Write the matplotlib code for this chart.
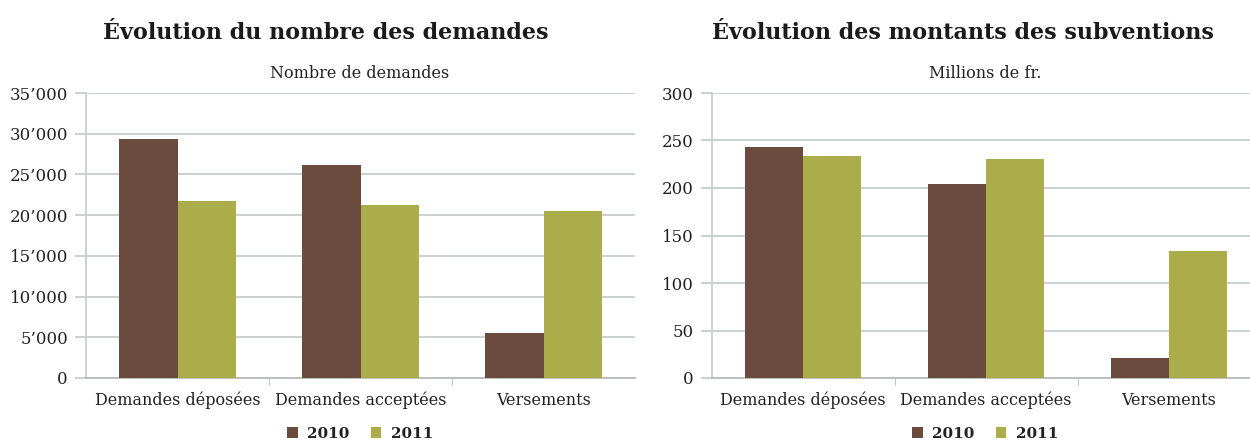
import matplotlib
matplotlib.use("Agg")
import matplotlib.pyplot as plt
from matplotlib.patches import Patch
import numpy as np

categories = ["Demandes déposées", "Demandes acceptées", "Versements"]
series_names = ["2010", "2011"]
demandes_2010 = [29400, 26100, 5500]
demandes_2011 = [21700, 21200, 20500]
montants_2010 = [243.5, 204, 21.5]
montants_2011 = [233.5, 231, 134]
left_ticks = [0, 5000, 10000, 15000, 20000, 25000, 30000, 35000]
left_ticklabels = ["0", "5’000", "10’000", "15’000", "20’000", "25’000", "30’000", "35’000"]
right_ticks = [0, 50, 100, 150, 200, 250, 300]
right_ticklabels = ["0", "50", "100", "150", "200", "250", "300"]

titles = ["Évolution du nombre des demandes", "Évolution des montants des subventions"]
subtitles = ["Nombre de demandes", "Millions de fr."]

C2010 = "#6b4b3e"
C2011 = "#abad4b"
GRID = "#c6cfca"
TXT = "#222222"

plt.rcParams['font.family'] = ['DejaVu Serif']

fig = plt.figure(figsize=(12.5, 4.43), dpi=100)
fig.patch.set_facecolor("white")

ax_h = (378 - 93) / 443
ax_b = 1 - 378 / 443
axL = fig.add_axes([86 / 1250, ax_b, 549 / 1250, ax_h])
axR = fig.add_axes([711.5 / 1250, ax_b, 549 / 1250, ax_h])

bw = 0.317
x = np.arange(len(categories))


def draw(ax, v10, v11, ticks, labels, ymax, title, subtitle, title_x, center_x):
    ax.bar(x - bw / 2, v10, bw, color=C2010, zorder=3)
    ax.bar(x + bw / 2, v11, bw, color=C2011, zorder=3)
    ax.set_xlim(-0.5, 2.5)
    ax.set_ylim(0, ymax)
    ax.set_yticks(ticks)
    ax.set_yticklabels(labels, fontsize=12, color=TXT)
    ax.yaxis.grid(True, color=GRID, linewidth=1.3, zorder=0)
    ax.set_axisbelow(True)
    ax.tick_params(axis='y', length=8, color=GRID, width=1.3, pad=5)
    ax.set_xticks(x)
    ax.set_xticklabels(categories, fontsize=11.5, color=TXT)
    ax.set_xticks([0.5, 1.5], minor=True)
    ax.tick_params(axis='x', which='major', length=0, pad=10)
    ax.tick_params(axis='x', which='minor', length=5, color="#b8bcb9")
    for s in ["top", "right"]:
        ax.spines[s].set_visible(False)
    ax.spines["left"].set_color("#c8cfcb")
    ax.spines["left"].set_linewidth(1.3)
    ax.spines["bottom"].set_color("#b8bcb9")
    ax.spines["bottom"].set_linewidth(1.3)
    fig.text(title_x, 1 - 33 / 443, title, ha="center", va="center",
             fontsize=16, fontweight="bold", color="#1a1a1a")
    fig.text(center_x, 1 - 73 / 443, subtitle, ha="center", va="center",
             fontsize=11.5, color=TXT)
    handles = [Patch(facecolor=C2010), Patch(facecolor=C2011)]
    fig.legend(handles, series_names, loc="center", ncol=2,
               bbox_to_anchor=(center_x, 1 - 434 / 443), frameon=False,
               prop={'size': 11, 'weight': 'bold'}, handlelength=0.7, handleheight=0.7,
               handletextpad=0.6, columnspacing=1.4, labelcolor=TXT)


draw(axL, demandes_2010, demandes_2011, left_ticks, left_ticklabels, 35000,
     titles[0], subtitles[0], 326 / 1250, 360 / 1250)
draw(axR, montants_2010, montants_2011, right_ticks, right_ticklabels, 300,
     titles[1], subtitles[1], 963 / 1250, 985 / 1250)

fig.savefig("out.png", dpi=100, facecolor="white")
